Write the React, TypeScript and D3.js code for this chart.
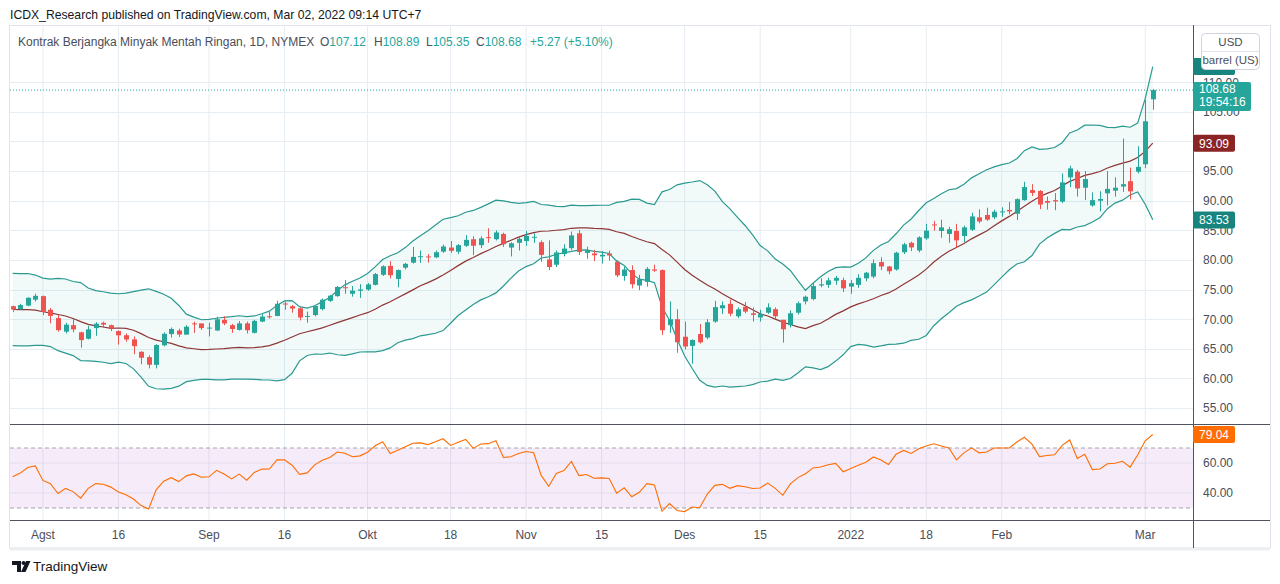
import React from 'react';
import * as d3 from 'd3';

// closes before the visible window, only used to warm up BB(20) and RSI(14)
const priorCloses: [string, number][] = [
  ['2021-06-01', 67.72], ['2021-06-02', 68.83], ['2021-06-03', 68.81], ['2021-06-04', 69.62],
  ['2021-06-07', 69.23], ['2021-06-08', 70.05], ['2021-06-09', 69.96], ['2021-06-10', 70.29],
  ['2021-06-11', 70.91], ['2021-06-14', 70.88], ['2021-06-15', 72.12], ['2021-06-16', 72.15],
  ['2021-06-17', 71.04], ['2021-06-18', 71.64], ['2021-06-21', 73.66], ['2021-06-22', 73.06],
  ['2021-06-23', 73.08], ['2021-06-24', 73.3], ['2021-06-25', 74.05], ['2021-06-28', 72.91],
  ['2021-06-29', 72.98], ['2021-06-30', 73.47], ['2021-07-01', 75.23], ['2021-07-02', 75.16],
  ['2021-07-06', 73.37], ['2021-07-07', 72.2], ['2021-07-08', 72.94], ['2021-07-09', 74.56],
  ['2021-07-12', 74.1], ['2021-07-13', 75.25], ['2021-07-14', 73.13], ['2021-07-15', 71.65],
  ['2021-07-16', 71.81], ['2021-07-19', 66.42], ['2021-07-20', 67.42], ['2021-07-21', 70.3],
  ['2021-07-22', 71.91], ['2021-07-23', 72.07], ['2021-07-26', 71.91],
];

// date, open, high, low, close
const bars: [string, number, number, number, number][] = [
  ['2021-07-27', 72.2, 72.3, 71.2, 71.65], ['2021-07-28', 71.7, 72.6, 71.6, 72.39],
  ['2021-07-29', 72.3, 73.7, 72.2, 73.62], ['2021-07-30', 73.3, 74.3, 73.0, 73.95],
  ['2021-08-02', 73.9, 74.0, 70.7, 71.26], ['2021-08-03', 71.6, 71.9, 69.3, 70.56],
  ['2021-08-04', 70.2, 70.7, 67.9, 68.15], ['2021-08-05', 67.9, 69.4, 67.6, 69.09],
  ['2021-08-06', 69.0, 70.0, 67.8, 68.28], ['2021-08-09', 67.8, 67.9, 65.2, 66.48],
  ['2021-08-10', 66.7, 68.9, 66.6, 68.29], ['2021-08-11', 68.5, 69.5, 67.2, 69.25],
  ['2021-08-12', 69.4, 69.6, 68.6, 69.09], ['2021-08-13', 69.0, 69.1, 68.0, 68.44],
  ['2021-08-16', 68.0, 68.1, 65.7, 67.29], ['2021-08-17', 67.3, 67.6, 66.2, 66.59],
  ['2021-08-18', 66.6, 67.1, 64.1, 65.46], ['2021-08-19', 64.5, 64.6, 62.4, 63.5],
  ['2021-08-20', 63.6, 63.9, 61.7, 62.32], ['2021-08-23', 62.3, 65.8, 61.7, 65.64],
  ['2021-08-24', 65.6, 67.8, 65.4, 67.54], ['2021-08-25', 67.5, 68.6, 66.9, 68.36],
  ['2021-08-26', 68.1, 68.4, 67.0, 67.42], ['2021-08-27', 67.4, 69.0, 67.4, 68.74],
  ['2021-08-30', 69.3, 69.6, 67.7, 69.21], ['2021-08-31', 69.3, 69.3, 68.2, 68.5],
  ['2021-09-01', 68.5, 69.4, 67.1, 68.59], ['2021-09-02', 68.1, 70.4, 68.0, 69.99],
  ['2021-09-03', 69.9, 70.5, 69.0, 69.29], ['2021-09-07', 69.0, 69.2, 67.7, 68.35],
  ['2021-09-08', 68.2, 69.7, 68.1, 69.3], ['2021-09-09', 69.3, 69.6, 67.6, 68.14],
  ['2021-09-10', 67.7, 69.9, 67.6, 69.72], ['2021-09-13', 69.6, 71.0, 69.5, 70.45],
  ['2021-09-14', 70.5, 71.3, 70.1, 70.46], ['2021-09-15', 70.55, 73.1, 70.5, 72.61],
  ['2021-09-16', 72.65, 73.0, 71.6, 72.61], ['2021-09-17', 72.2, 72.4, 71.1, 71.8],
  ['2021-09-20', 71.85, 72.0, 69.8, 70.29], ['2021-09-21', 70.4, 71.3, 69.4, 70.56],
  ['2021-09-22', 70.7, 72.4, 70.5, 72.23], ['2021-09-23', 71.7, 73.5, 71.5, 73.3],
  ['2021-09-24', 73.1, 74.1, 72.9, 73.98], ['2021-09-27', 73.9, 75.6, 73.8, 75.45],
  ['2021-09-28', 75.4, 76.6, 74.3, 75.29], ['2021-09-29', 74.3, 75.6, 73.8, 74.83],
  ['2021-09-30', 74.8, 75.9, 73.6, 75.03], ['2021-10-01', 75.0, 76.1, 74.8, 75.88],
  ['2021-10-04', 75.8, 77.8, 75.7, 77.62], ['2021-10-05', 77.5, 79.1, 77.3, 78.93],
  ['2021-10-06', 79.0, 79.8, 76.9, 77.43], ['2021-10-07', 76.8, 78.4, 75.4, 78.3],
  ['2021-10-08', 78.7, 79.5, 78.4, 79.35], ['2021-10-11', 79.55, 82.2, 79.4, 80.52],
  ['2021-10-12', 80.5, 81.6, 79.5, 80.64], ['2021-10-13', 80.6, 81.0, 79.55, 80.44],
  ['2021-10-14', 80.45, 81.6, 80.3, 81.31], ['2021-10-15', 81.4, 82.6, 81.2, 82.28],
  ['2021-10-18', 82.1, 83.2, 81.2, 81.55], ['2021-10-19', 81.4, 82.7, 81.0, 82.5],
  ['2021-10-20', 82.4, 84.2, 82.2, 83.4], ['2021-10-21', 83.5, 84.0, 80.8, 82.4],
  ['2021-10-22', 82.5, 84.0, 82.0, 83.65], ['2021-10-25', 83.85, 85.35, 82.9, 83.76],
  ['2021-10-26', 83.5, 85.0, 83.3, 84.65], ['2021-10-27', 84.4, 84.6, 82.2, 82.66],
  ['2021-10-28', 82.1, 83.0, 80.6, 82.81], ['2021-10-29', 82.9, 83.9, 81.6, 83.57],
  ['2021-11-01', 83.2, 84.9, 82.4, 84.05], ['2021-11-02', 83.9, 84.5, 82.9, 83.91],
  ['2021-11-03', 83.0, 83.3, 79.7, 80.86], ['2021-11-04', 80.1, 83.3, 78.3, 78.81],
  ['2021-11-05', 79.2, 81.6, 78.8, 81.27], ['2021-11-08', 81.0, 82.65, 80.6, 81.93],
  ['2021-11-09', 82.0, 84.8, 81.7, 84.15], ['2021-11-10', 84.5, 85.05, 80.85, 81.34],
  ['2021-11-11', 81.2, 82.25, 80.2, 81.59], ['2021-11-12', 81.1, 81.7, 79.8, 80.79],
  ['2021-11-15', 80.6, 81.5, 79.4, 80.88], ['2021-11-16', 81.1, 81.6, 79.9, 80.76],
  ['2021-11-17', 79.7, 80.0, 77.1, 77.4], ['2021-11-18', 77.3, 78.9, 76.5, 78.4],
  ['2021-11-19', 78.3, 79.1, 75.2, 75.9], ['2021-11-22', 75.7, 77.5, 74.9, 76.75],
  ['2021-11-23', 76.3, 78.8, 75.5, 78.5], ['2021-11-24', 78.4, 79.2, 78.0, 78.2],
  ['2021-11-26', 78.3, 78.4, 67.35, 68.15], ['2021-11-29', 69.0, 73.0, 67.7, 70.0],
  ['2021-11-30', 70.0, 71.7, 64.35, 66.1], ['2021-12-01', 67.05, 69.6, 64.9, 65.4],
  ['2021-12-02', 65.5, 66.6, 62.5, 66.5], ['2021-12-03', 67.5, 69.2, 65.9, 66.1],
  ['2021-12-06', 66.9, 70.0, 66.6, 69.49], ['2021-12-07', 69.6, 73.1, 69.4, 72.05],
  ['2021-12-08', 71.85, 73.0, 70.9, 72.36], ['2021-12-09', 72.6, 73.3, 70.5, 70.94],
  ['2021-12-10', 70.5, 72.0, 70.2, 71.67], ['2021-12-13', 72.1, 72.9, 71.0, 71.29],
  ['2021-12-14', 71.0, 72.0, 69.6, 70.73], ['2021-12-15', 70.3, 71.6, 69.6, 70.87],
  ['2021-12-16', 71.1, 72.7, 70.9, 72.0], ['2021-12-17', 71.7, 72.0, 70.0, 70.5],
  ['2021-12-20', 69.9, 69.9, 66.05, 68.3], ['2021-12-21', 69.0, 71.5, 68.6, 71.0],
  ['2021-12-22', 71.1, 73.0, 70.8, 72.7], ['2021-12-23', 73.0, 74.0, 72.5, 73.8],
  ['2021-12-27', 73.4, 76.2, 73.2, 75.6], ['2021-12-28', 75.7, 76.9, 75.4, 75.9],
  ['2021-12-29', 75.8, 77.0, 75.3, 76.56], ['2021-12-30', 76.5, 77.3, 75.8, 76.99],
  ['2021-12-31', 76.6, 77.0, 74.6, 75.21], ['2022-01-03', 75.5, 76.6, 74.3, 76.08],
  ['2022-01-04', 75.8, 77.6, 75.3, 76.99], ['2022-01-05', 76.9, 78.0, 76.4, 77.85],
  ['2022-01-06', 77.2, 80.1, 76.9, 79.46], ['2022-01-07', 79.65, 80.45, 78.3, 78.9],
  ['2022-01-10', 78.9, 79.0, 77.6, 78.1], ['2022-01-11', 78.4, 81.4, 78.2, 81.22],
  ['2022-01-12', 81.3, 82.9, 81.0, 82.64], ['2022-01-13', 82.9, 83.1, 81.5, 82.12],
  ['2022-01-14', 81.6, 84.0, 81.3, 83.82], ['2022-01-18', 83.65, 86.1, 83.4, 84.95],
  ['2022-01-19', 86.0, 86.6, 84.95, 85.85], ['2022-01-20', 84.9, 86.8, 83.75, 85.5],
  ['2022-01-21', 84.4, 85.6, 82.9, 85.2], ['2022-01-24', 84.9, 86.1, 82.1, 83.31],
  ['2022-01-25', 84.05, 85.8, 83.0, 85.5], ['2022-01-26', 85.1, 88.0, 84.9, 87.35],
  ['2022-01-27', 87.2, 88.55, 86.2, 86.5], ['2022-01-28', 87.6, 88.84, 86.6, 86.8],
  ['2022-01-31', 87.2, 88.5, 86.9, 88.15], ['2022-02-01', 88.1, 88.9, 87.3, 88.2],
  ['2022-02-02', 88.45, 89.8, 87.7, 88.2], ['2022-02-03', 87.8, 90.4, 86.75, 90.27],
  ['2022-02-04', 90.1, 93.2, 90.0, 92.31], ['2022-02-07', 91.8, 92.8, 90.8, 91.32],
  ['2022-02-08', 91.65, 91.8, 88.6, 89.36], ['2022-02-09', 89.96, 90.7, 88.5, 89.66],
  ['2022-02-10', 90.1, 91.3, 88.4, 89.88], ['2022-02-11', 89.85, 94.6, 89.6, 93.1],
  ['2022-02-14', 93.95, 95.9, 92.3, 95.46], ['2022-02-15', 94.9, 95.2, 90.7, 92.07],
  ['2022-02-16', 92.2, 95.0, 90.1, 93.66], ['2022-02-17', 89.2, 91.4, 89.0, 90.1],
  ['2022-02-18', 90.0, 91.6, 88.2, 90.3], ['2022-02-22', 91.25, 95.0, 89.2, 92.0],
  ['2022-02-23', 91.7, 93.95, 90.7, 92.2], ['2022-02-24', 92.4, 100.5, 91.5, 92.8],
  ['2022-02-25', 93.3, 95.6, 90.2, 91.59], ['2022-02-28', 94.9, 99.2, 94.6, 95.72],
  ['2022-03-01', 96.15, 107.0, 95.5, 103.41], ['2022-03-02', 107.12, 108.89, 105.35, 108.68],
];

const timeTicks: [string, string][] = [
  ['2021-08-02', 'Agst'], ['2021-08-16', '16'], ['2021-09-01', 'Sep'], ['2021-09-16', '16'],
  ['2021-10-01', 'Okt'], ['2021-10-18', '18'], ['2021-11-01', 'Nov'], ['2021-11-15', '15'],
  ['2021-12-01', 'Des'], ['2021-12-15', '15'], ['2022-01-03', '2022'], ['2022-01-18', '18'],
  ['2022-02-01', 'Feb'], ['2022-03-01', 'Mar'],
];
const priceTicks = [55, 60, 65, 70, 75, 80, 85, 90, 95, 100, 105, 110];
const rsiTicks = [60, 40];
const rsiBands = [70, 30];

// values printed on the right-hand labels
const bbBasisLast = 93.09;
const bbLowerLast = 83.53;
const rsiLast = 79.04;
const lastPrice = 108.68;
const countdown = '19:54:16';
const legendValues = { o: '107.12', h: '108.89', l: '105.35', c: '108.68', chg: '+5.27 (+5.10%)' };

const UP = '#26a69a';
const DOWN = '#ef5350';
const GRID = '#e6edf3';
const AXIS = '#50535e';
const TXT = '#4a4e59';
const FONT = "'Liberation Sans', Arial, sans-serif";

const L = 10, R = 1193, TOP = 25, MAIN_BOT = 424, RSI_BOT = 520, FRAME_BOT = 548;

// indicators from closes
const allCloses = [...priorCloses.map(d => d[1]), ...bars.map(b => b[4])];
const off = priorCloses.length;
const bb = bars.map((b, i) => {
  const w = allCloses.slice(off + i - 19, off + i + 1);
  const m = d3.mean(w)!;
  const sd = Math.sqrt(d3.mean(w, v => (v - m) ** 2)!);
  return { date: b[0], basis: m, upper: m + 2 * sd, lower: m - 2 * sd };
});

const rsiAll: number[] = allCloses.map(() => NaN);
{
  const len = 14;
  let up = 0, dn = 0;
  for (let k = 1; k < allCloses.length; k++) {
    const ch = allCloses[k] - allCloses[k - 1];
    const g = Math.max(ch, 0), l = Math.max(-ch, 0);
    if (k <= len) {
      up += g; dn += l;
      if (k === len) { up /= len; dn /= len; rsiAll[k] = dn === 0 ? 100 : 100 - 100 / (1 + up / dn); }
    } else {
      up = (up * (len - 1) + g) / len;
      dn = (dn * (len - 1) + l) / len;
      rsiAll[k] = dn === 0 ? 100 : 100 - 100 / (1 + up / dn);
    }
  }
}
const rsi = bars.map((b, i) => ({ date: b[0], v: rsiAll[off + i] }));

export default function App() {
  const x = d3.scalePoint<string>().domain(bars.map(b => b[0])).range([12.7, 1152.75]);
  const y = d3.scaleLinear().domain([55, 110]).range([408.1, 82.25]);
  const yBB = d3.scaleLinear().domain([bbLowerLast, bbBasisLast]).range([220, 143.3]);
  const yRsi = d3.scaleLinear().domain([40, 60]).range([493, 463]);

  type B = (typeof bb)[number];
  const bandArea = d3.area<B>().x(d => x(d.date)!).y0(d => yBB(d.lower)).y1(d => yBB(d.upper));
  const lineOf = (k: 'upper' | 'lower' | 'basis') => d3.line<B>().x(d => x(d.date)!).y(d => yBB(d[k]))(bb)!;
  const rsiLine = d3.line<{ date: string; v: number }>().x(d => x(d.date)!).y(d => yRsi(d.v))(rsi)!;
  const bbUpperLast = bbBasisLast + (bbBasisLast - bbLowerLast);

  // tick labels fully hidden under a value label are dropped, as on the platform
  const shownPriceTicks = priceTicks.filter(p => Math.abs(y(p) - yBB(bbBasisLast)) > 4);

  const label = (yy: number, bg: string, text: string | null, key: string) => (
    <g key={key}>
      <rect x={R} y={yy - 8.5} width={42} height={17} rx={2} fill={bg} />
      {text && <text x={R + 21} y={yy + 4.3} textAnchor="middle" fill="#fff" fontSize={12}>{text}</text>}
    </g>
  );

  return (
    <svg width={1280} height={584} style={{ position: 'absolute', left: 0, top: 0, background: '#fff' }} fontFamily={FONT}>
      <defs>
        <clipPath id="mainClip"><rect x={L} y={TOP} width={R - L} height={MAIN_BOT - TOP} /></clipPath>
        <clipPath id="rsiClip"><rect x={L} y={MAIN_BOT} width={R - L} height={RSI_BOT - MAIN_BOT} /></clipPath>
      </defs>

      <text x={10} y={18.5} fontSize={12.2} fill="#131722">ICDX_Research published on TradingView.com, Mar 02, 2022 09:14 UTC+7</text>

      {/* grid */}
      {timeTicks.map(([d]) => (
        <line key={'vg' + d} x1={x(d)} x2={x(d)} y1={TOP} y2={RSI_BOT} stroke={GRID} />
      ))}
      {priceTicks.map(p => (
        <line key={'hg' + p} x1={L} x2={R} y1={Math.round(y(p)) + 0.5} y2={Math.round(y(p)) + 0.5} stroke={GRID} />
      ))}

      {/* Bollinger bands (own overlay scale) */}
      <g clipPath="url(#mainClip)">
        <path d={bandArea(bb)!} fill="rgba(38,166,154,0.06)" />
        <path d={lineOf('upper')} fill="none" stroke="#2a9990" strokeWidth={1.2} />
        <path d={lineOf('lower')} fill="none" stroke="#2a9990" strokeWidth={1.2} />
        <path d={lineOf('basis')} fill="none" stroke="#8e3535" strokeWidth={1.2} />

        <line x1={L} x2={R} y1={y(lastPrice)} y2={y(lastPrice)} stroke={UP} strokeDasharray="1 2" />

        {bars.map(([d, o, h, l, c]) => {
          const cx = Math.round(x(d)!) + 0.5;
          const col = c >= o ? UP : DOWN;
          const top = y(Math.max(o, c)), bot = y(Math.min(o, c));
          return (
            <g key={d}>
              <line x1={cx} x2={cx} y1={y(h)} y2={y(l)} stroke={col} />
              <rect x={cx - 2.5} y={top} width={5} height={Math.max(1, bot - top)} fill={col} />
            </g>
          );
        })}
      </g>

      {/* legend row */}
      <text y={46} fontSize={12} fill={TXT}>
        <tspan x={18}>Kontrak Berjangka Minyak Mentah Ringan, 1D, NYMEX</tspan>
        <tspan x={320}>O</tspan><tspan fill={UP}>{legendValues.o}</tspan>
        <tspan x={374}>H</tspan><tspan fill={UP}>{legendValues.h}</tspan>
        <tspan x={426}>L</tspan><tspan fill={UP}>{legendValues.l}</tspan>
        <tspan x={476}>C</tspan><tspan fill={UP}>{legendValues.c}</tspan>
        <tspan x={530} fill={UP}>{legendValues.chg}</tspan>
      </text>

      {/* RSI pane */}
      <rect x={L} y={yRsi(70)} width={R - L} height={yRsi(30) - yRsi(70)} fill="rgba(171,71,188,0.11)" />
      {rsiTicks.map(v => (
        <line key={'rg' + v} x1={L} x2={R} y1={yRsi(v)} y2={yRsi(v)} stroke="#e3dcef" />
      ))}
      {rsiBands.map(v => (
        <line key={'rb' + v} x1={L} x2={R} y1={yRsi(v)} y2={yRsi(v)} stroke="#a3a6af" strokeDasharray="4 3" />
      ))}
      <g clipPath="url(#rsiClip)">
        <path d={rsiLine} fill="none" stroke="#ff6d00" strokeWidth={1.1} />
      </g>

      {/* pane borders and axes */}
      <rect x={9.5} y={25.5} width={1261} height={FRAME_BOT - 25.5} fill="none" stroke="#e0e3eb" />
      <line x1={9.5} x2={1270} y1={FRAME_BOT + 1} y2={FRAME_BOT + 1} stroke="#eceef2" strokeWidth={3} />
      <line x1={L} x2={1270} y1={MAIN_BOT + 0.5} y2={MAIN_BOT + 0.5} stroke={AXIS} />
      <line x1={L} x2={1270} y1={RSI_BOT + 0.5} y2={RSI_BOT + 0.5} stroke={AXIS} />
      <line x1={R + 0.5} x2={R + 0.5} y1={TOP} y2={FRAME_BOT} stroke={AXIS} />

      {shownPriceTicks.map(p => (
        <text key={'pt' + p} x={1203} y={y(p) + 4.3} fontSize={12} fill={TXT}>{p.toFixed(2)}</text>
      ))}
      {rsiTicks.map(v => (
        <text key={'rt' + v} x={1203} y={yRsi(v) + 4.3} fontSize={12} fill={TXT}>{v.toFixed(2)}</text>
      ))}
      {timeTicks.map(([d, t]) => (
        <text key={'tt' + d} x={x(d)} y={539} textAnchor="middle" fontSize={12} fill={TXT}>{t}</text>
      ))}

      {/* value labels */}
      {label(yBB(bbUpperLast), '#17857d', null, 'lu')}
      {label(yBB(bbBasisLast), '#8b2525', bbBasisLast.toFixed(2), 'lb')}
      {label(yBB(bbLowerLast), '#17857d', bbLowerLast.toFixed(2), 'll')}
      <rect x={R} y={y(lastPrice) - 8} width={58} height={29} rx={2} fill={UP} />
      <text x={R + 6} y={y(lastPrice) + 3.3} fontSize={12} fill="#fff">{lastPrice.toFixed(2)}</text>
      <text x={R + 6} y={y(lastPrice) + 16.3} fontSize={12} fill="#fff">{countdown}</text>
      {label(yRsi(rsiLast), '#ff6d00', rsiLast.toFixed(2), 'lr')}

      <g>
        <rect x={1201.5} y={33.5} width={58} height={36} rx={4} fill="#fff" stroke="#d1d4dc" />
        <line x1={1201.5} x2={1259.5} y1={51.5} y2={51.5} stroke="#e0e3eb" />
        <text x={1230.5} y={46} textAnchor="middle" fontSize={11.5} fill={TXT}>USD</text>
        <text x={1230.5} y={64} textAnchor="middle" fontSize={11.5} fill={TXT}>barrel (US)</text>
      </g>

      {/* footer */}
      <g fill="#131722">
        <path d="M12 561 h9 v11 h-4 v-7 h-5 z" />
        <circle cx={23.5} cy={563} r={2} />
        <path d="M26 561 h4.5 l-5 11 h-4.5 z" />
      </g>
      <text x={33} y={571} fontSize={13.5} fill="#131722">TradingView</text>
    </svg>
  );
}
